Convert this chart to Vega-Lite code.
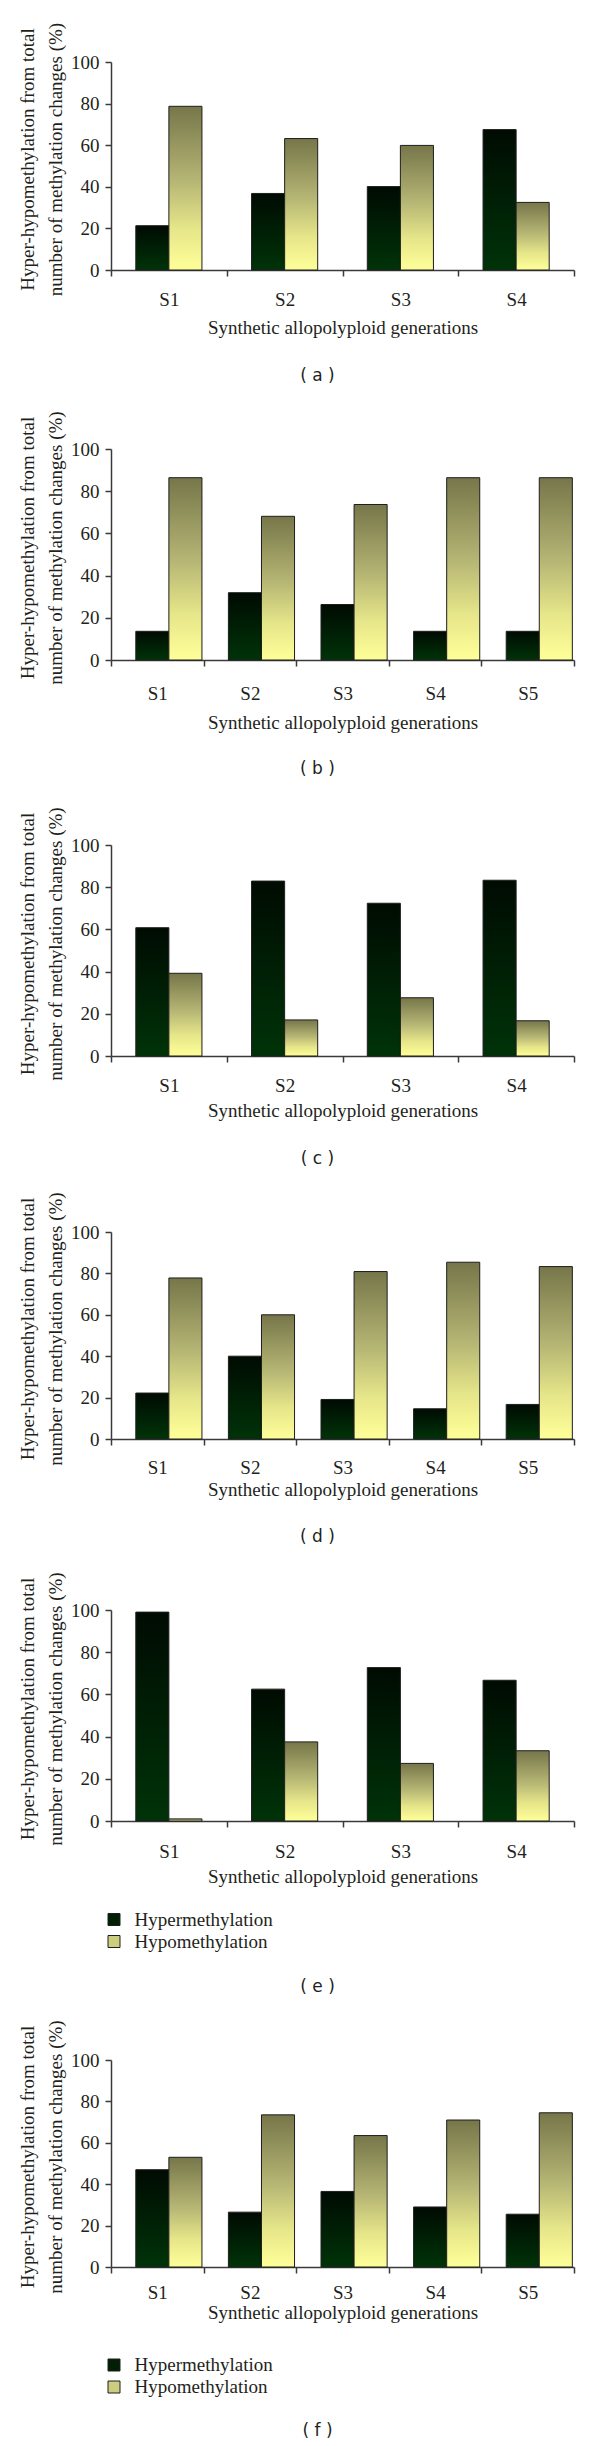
{
  "$schema": "https://vega.github.io/schema/vega-lite/v6.json",
  "background": "white",
  "padding": {"left": 18, "top": 22, "right": 5, "bottom": 5},
  "bounds": "flush",
  "spacing": 171,
  "resolve": {"scale": {"color": "independent"}, "legend": {"color": "independent"}},
  "config": {
    "font": "Liberation Serif",
    "view": {"stroke": null},
    "axis": {"labelFont": "Liberation Serif", "labelFontSize": 19, "labelColor": "#231f20", "titleFont": "Liberation Serif", "titleFontSize": 19, "titleFontWeight": "normal", "titleColor": "#231f20", "domainColor": "#3a3a3a", "tickColor": "#3a3a3a", "domainWidth": 1.5, "tickWidth": 1.5, "grid": false},
    "axisX": {"tickBand": "extent", "tickSize": 6, "labelAngle": 0},
    "axisY": {"tickSize": 6, "labelPadding": 6, "titlePadding": 5, "titleLineHeight": 28, "values": [0, 20, 40, 60, 80, 100]},
    "legend": {"labelFont": "Liberation Serif", "labelFontSize": 19, "labelColor": "#231f20", "symbolType": "square", "symbolSize": 144, "symbolStrokeColor": "#1e1e1e", "symbolStrokeWidth": 1, "symbolOpacity": 1, "labelOffset": 11, "rowPadding": 2},
    "title": {"orient": "bottom", "anchor": "middle", "frame": "group", "font": "DejaVu Sans", "fontSize": 17, "fontWeight": "normal", "color": "#231f20", "dx": -25}
  },
  "vconcat": [
    {
      "width": 463, "height": 208,
      "title": {"text": "( a )", "offset": 31},
      "data": {"values": [
        {"gen": "S1", "type": "Hypermethylation", "pct": 21.3}, {"gen": "S1", "type": "Hypomethylation", "pct": 78.7},
        {"gen": "S2", "type": "Hypermethylation", "pct": 36.8}, {"gen": "S2", "type": "Hypomethylation", "pct": 63.2},
        {"gen": "S3", "type": "Hypermethylation", "pct": 40.1}, {"gen": "S3", "type": "Hypomethylation", "pct": 59.9},
        {"gen": "S4", "type": "Hypermethylation", "pct": 67.5}, {"gen": "S4", "type": "Hypomethylation", "pct": 32.5}
      ]},
      "mark": {"type": "bar", "stroke": "#1e1e1e", "strokeWidth": 1},
      "encoding": {
        "x": {"field": "gen", "type": "nominal", "scale": {"paddingInner": 0, "paddingOuter": 0}, "axis": {"title": "Synthetic allopolyploid generations", "labelPadding": 14, "titlePadding": 9}},
        "xOffset": {"field": "type", "type": "nominal", "scale": {"paddingInner": 0, "paddingOuter": 0.75}},
        "y": {"field": "pct", "type": "quantitative", "scale": {"domain": [0, 100], "range": [208, 0], "nice": false}, "axis": {"title": ["Hyper-hypomethylation from total", "number of methylation changes (%)"], "titleY": 97}},
        "fill": {"condition": {"test": "datum.type === 'Hypermethylation'", "value": {"gradient": "linear", "x1": 0, "y1": 0, "x2": 0, "y2": 1, "stops": [{"offset": 0, "color": "#000b02"}, {"offset": 1, "color": "#003308"}]}}, "value": {"gradient": "linear", "x1": 0, "y1": 0, "x2": 0, "y2": 1, "stops": [{"offset": 0, "color": "#76764a"}, {"offset": 0.45, "color": "#b5b574"}, {"offset": 0.75, "color": "#e6e68a"}, {"offset": 1, "color": "#ffff99"}]}}
      }
    },
    {
      "width": 463, "height": 219,
      "title": {"text": "( b )", "offset": 29},
      "data": {"values": [
        {"gen": "S1", "type": "Hypermethylation", "pct": 13.6}, {"gen": "S1", "type": "Hypomethylation", "pct": 86.4},
        {"gen": "S2", "type": "Hypermethylation", "pct": 31.9}, {"gen": "S2", "type": "Hypomethylation", "pct": 68.1},
        {"gen": "S3", "type": "Hypermethylation", "pct": 26.3}, {"gen": "S3", "type": "Hypomethylation", "pct": 73.7},
        {"gen": "S4", "type": "Hypermethylation", "pct": 13.6}, {"gen": "S4", "type": "Hypomethylation", "pct": 86.4},
        {"gen": "S5", "type": "Hypermethylation", "pct": 13.6}, {"gen": "S5", "type": "Hypomethylation", "pct": 86.4}
      ]},
      "mark": {"type": "bar", "stroke": "#1e1e1e", "strokeWidth": 1},
      "encoding": {
        "x": {"field": "gen", "type": "nominal", "scale": {"paddingInner": 0, "paddingOuter": 0}, "axis": {"title": "Synthetic allopolyploid generations", "labelPadding": 18, "titlePadding": 10}},
        "xOffset": {"field": "type", "type": "nominal", "scale": {"paddingInner": 0, "paddingOuter": 0.75}},
        "y": {"field": "pct", "type": "quantitative", "scale": {"domain": [0, 100], "range": [219, 8], "nice": false}, "axis": {"title": ["Hyper-hypomethylation from total", "number of methylation changes (%)"], "titleY": 106.5}},
        "fill": {"condition": {"test": "datum.type === 'Hypermethylation'", "value": {"gradient": "linear", "x1": 0, "y1": 0, "x2": 0, "y2": 1, "stops": [{"offset": 0, "color": "#000b02"}, {"offset": 1, "color": "#003308"}]}}, "value": {"gradient": "linear", "x1": 0, "y1": 0, "x2": 0, "y2": 1, "stops": [{"offset": 0, "color": "#76764a"}, {"offset": 0.45, "color": "#b5b574"}, {"offset": 0.75, "color": "#e6e68a"}, {"offset": 1, "color": "#ffff99"}]}}
      }
    },
    {
      "width": 463, "height": 225,
      "title": {"text": "( c )", "offset": 30},
      "data": {"values": [
        {"gen": "S1", "type": "Hypermethylation", "pct": 60.8}, {"gen": "S1", "type": "Hypomethylation", "pct": 39.2},
        {"gen": "S2", "type": "Hypermethylation", "pct": 82.9}, {"gen": "S2", "type": "Hypomethylation", "pct": 17.1},
        {"gen": "S3", "type": "Hypermethylation", "pct": 72.4}, {"gen": "S3", "type": "Hypomethylation", "pct": 27.6},
        {"gen": "S4", "type": "Hypermethylation", "pct": 83.3}, {"gen": "S4", "type": "Hypomethylation", "pct": 16.7}
      ]},
      "mark": {"type": "bar", "stroke": "#1e1e1e", "strokeWidth": 1},
      "encoding": {
        "x": {"field": "gen", "type": "nominal", "scale": {"paddingInner": 0, "paddingOuter": 0}, "axis": {"title": "Synthetic allopolyploid generations", "labelPadding": 14.7, "titlePadding": 6}},
        "xOffset": {"field": "type", "type": "nominal", "scale": {"paddingInner": 0, "paddingOuter": 0.75}},
        "y": {"field": "pct", "type": "quantitative", "scale": {"domain": [0, 100], "range": [225, 14], "nice": false}, "axis": {"title": ["Hyper-hypomethylation from total", "number of methylation changes (%)"], "titleY": 112.5}},
        "fill": {"condition": {"test": "datum.type === 'Hypermethylation'", "value": {"gradient": "linear", "x1": 0, "y1": 0, "x2": 0, "y2": 1, "stops": [{"offset": 0, "color": "#000b02"}, {"offset": 1, "color": "#003308"}]}}, "value": {"gradient": "linear", "x1": 0, "y1": 0, "x2": 0, "y2": 1, "stops": [{"offset": 0, "color": "#76764a"}, {"offset": 0.45, "color": "#b5b574"}, {"offset": 0.75, "color": "#e6e68a"}, {"offset": 1, "color": "#ffff99"}]}}
      }
    },
    {
      "width": 463, "height": 212,
      "title": {"text": "( d )", "offset": 30},
      "data": {"values": [
        {"gen": "S1", "type": "Hypermethylation", "pct": 22.2}, {"gen": "S1", "type": "Hypomethylation", "pct": 77.8},
        {"gen": "S2", "type": "Hypermethylation", "pct": 40.0}, {"gen": "S2", "type": "Hypomethylation", "pct": 60.0},
        {"gen": "S3", "type": "Hypermethylation", "pct": 19.1}, {"gen": "S3", "type": "Hypomethylation", "pct": 80.9},
        {"gen": "S4", "type": "Hypermethylation", "pct": 14.6}, {"gen": "S4", "type": "Hypomethylation", "pct": 85.4},
        {"gen": "S5", "type": "Hypermethylation", "pct": 16.7}, {"gen": "S5", "type": "Hypomethylation", "pct": 83.3}
      ]},
      "mark": {"type": "bar", "stroke": "#1e1e1e", "strokeWidth": 1},
      "encoding": {
        "x": {"field": "gen", "type": "nominal", "scale": {"paddingInner": 0, "paddingOuter": 0}, "axis": {"title": "Synthetic allopolyploid generations", "labelPadding": 13.3, "titlePadding": 3}},
        "xOffset": {"field": "type", "type": "nominal", "scale": {"paddingInner": 0, "paddingOuter": 0.75}},
        "y": {"field": "pct", "type": "quantitative", "scale": {"domain": [0, 100], "range": [212, 5], "nice": false}, "axis": {"title": ["Hyper-hypomethylation from total", "number of methylation changes (%)"], "titleY": 101.5}},
        "fill": {"condition": {"test": "datum.type === 'Hypermethylation'", "value": {"gradient": "linear", "x1": 0, "y1": 0, "x2": 0, "y2": 1, "stops": [{"offset": 0, "color": "#000b02"}, {"offset": 1, "color": "#003308"}]}}, "value": {"gradient": "linear", "x1": 0, "y1": 0, "x2": 0, "y2": 1, "stops": [{"offset": 0, "color": "#76764a"}, {"offset": 0.45, "color": "#b5b574"}, {"offset": 0.75, "color": "#e6e68a"}, {"offset": 1, "color": "#ffff99"}]}}
      }
    },
    {
      "width": 463, "height": 211,
      "title": {"text": "( e )", "offset": 27},
      "data": {"values": [
        {"gen": "S1", "type": "Hypermethylation", "pct": 99.0}, {"gen": "S1", "type": "Hypomethylation", "pct": 1.0},
        {"gen": "S2", "type": "Hypermethylation", "pct": 62.5}, {"gen": "S2", "type": "Hypomethylation", "pct": 37.5},
        {"gen": "S3", "type": "Hypermethylation", "pct": 72.7}, {"gen": "S3", "type": "Hypomethylation", "pct": 27.3},
        {"gen": "S4", "type": "Hypermethylation", "pct": 66.7}, {"gen": "S4", "type": "Hypomethylation", "pct": 33.3}
      ]},
      "encoding": {
        "x": {"field": "gen", "type": "nominal", "scale": {"paddingInner": 0, "paddingOuter": 0}, "axis": {"title": "Synthetic allopolyploid generations", "labelPadding": 15.6, "titlePadding": 5.4}},
        "xOffset": {"field": "type", "type": "nominal", "scale": {"paddingInner": 0, "paddingOuter": 0.75}},
        "y": {"field": "pct", "type": "quantitative", "scale": {"domain": [0, 100], "range": [211, 0], "nice": false}, "axis": {"title": ["Hyper-hypomethylation from total", "number of methylation changes (%)"], "titleY": 98.5}}
      },
      "layer": [
        {
          "mark": {"type": "bar", "stroke": "#1e1e1e", "strokeWidth": 1},
          "encoding": {
            "fill": {"condition": {"test": "datum.type === 'Hypermethylation'", "value": {"gradient": "linear", "x1": 0, "y1": 0, "x2": 0, "y2": 1, "stops": [{"offset": 0, "color": "#000b02"}, {"offset": 1, "color": "#003308"}]}}, "value": {"gradient": "linear", "x1": 0, "y1": 0, "x2": 0, "y2": 1, "stops": [{"offset": 0, "color": "#76764a"}, {"offset": 0.45, "color": "#b5b574"}, {"offset": 0.75, "color": "#e6e68a"}, {"offset": 1, "color": "#ffff99"}]}}
          }
        },
        {
          "transform": [{"filter": "false"}],
          "mark": {"type": "square", "filled": true, "opacity": 1},
          "encoding": {
            "color": {"field": "type", "type": "nominal", "scale": {"domain": ["Hypermethylation", "Hypomethylation"], "range": ["#001f05", "#cdcd80"]}, "legend": {"orient": "none", "legendX": -6.5, "legendY": 300, "title": null, "direction": "vertical", "labelFontSize": 19, "symbolSize": 144, "symbolOpacity": 1}}
          }
        }
      ]
    },
    {
      "width": 463, "height": 275,
      "title": {"text": "( f )", "offset": 25},
      "data": {"values": [
        {"gen": "S1", "type": "Hypermethylation", "pct": 47.0}, {"gen": "S1", "type": "Hypomethylation", "pct": 53.0},
        {"gen": "S2", "type": "Hypermethylation", "pct": 26.5}, {"gen": "S2", "type": "Hypomethylation", "pct": 73.5},
        {"gen": "S3", "type": "Hypermethylation", "pct": 36.5}, {"gen": "S3", "type": "Hypomethylation", "pct": 63.5},
        {"gen": "S4", "type": "Hypermethylation", "pct": 29.0}, {"gen": "S4", "type": "Hypomethylation", "pct": 71.0},
        {"gen": "S5", "type": "Hypermethylation", "pct": 25.5}, {"gen": "S5", "type": "Hypomethylation", "pct": 74.5}
      ]},
      "encoding": {
        "x": {"field": "gen", "type": "nominal", "scale": {"paddingInner": 0, "paddingOuter": 0}, "axis": {"title": "Synthetic allopolyploid generations", "labelPadding": 10.6, "titlePadding": 1}},
        "xOffset": {"field": "type", "type": "nominal", "scale": {"paddingInner": 0, "paddingOuter": 0.75}},
        "y": {"field": "pct", "type": "quantitative", "scale": {"domain": [0, 100], "range": [275, 68], "nice": false}, "axis": {"title": ["Hyper-hypomethylation from total", "number of methylation changes (%)"], "titleY": 164.5}}
      },
      "layer": [
        {
          "mark": {"type": "bar", "stroke": "#1e1e1e", "strokeWidth": 1},
          "encoding": {
            "fill": {"condition": {"test": "datum.type === 'Hypermethylation'", "value": {"gradient": "linear", "x1": 0, "y1": 0, "x2": 0, "y2": 1, "stops": [{"offset": 0, "color": "#000b02"}, {"offset": 1, "color": "#003308"}]}}, "value": {"gradient": "linear", "x1": 0, "y1": 0, "x2": 0, "y2": 1, "stops": [{"offset": 0, "color": "#76764a"}, {"offset": 0.45, "color": "#b5b574"}, {"offset": 0.75, "color": "#e6e68a"}, {"offset": 1, "color": "#ffff99"}]}}
          }
        },
        {
          "transform": [{"filter": "false"}],
          "mark": {"type": "square", "filled": true, "opacity": 1},
          "encoding": {
            "color": {"field": "type", "type": "nominal", "scale": {"domain": ["Hypermethylation", "Hypomethylation"], "range": ["#001f05", "#cdcd80"]}, "legend": {"orient": "none", "legendX": -6.5, "legendY": 363.5, "title": null, "direction": "vertical", "labelFontSize": 19, "symbolSize": 144, "symbolOpacity": 1}}
          }
        }
      ]
    }
  ]
}
